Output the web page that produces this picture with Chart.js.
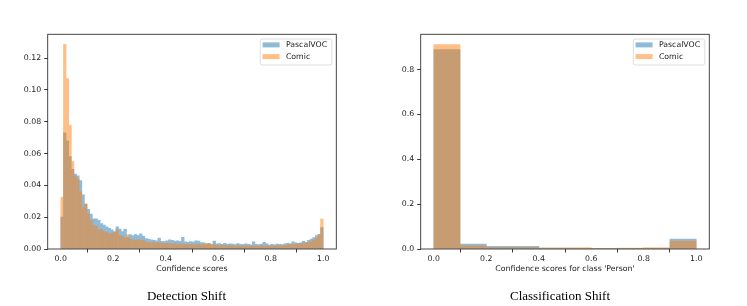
<!DOCTYPE html>
<html><head><meta charset="utf-8">
<script src="https://cdn.jsdelivr.net/npm/chart.js@4"></script>
<style>
html,body{margin:0;padding:0;background:#fff;}
#wrap{position:relative;width:747px;height:306px;overflow:hidden;background:#fff;}
canvas{position:absolute;top:0;}
.cap{position:absolute;font-family:"Liberation Serif","Times New Roman",serif;font-size:13px;color:#000;transform:translateX(-50%);white-space:nowrap;top:288px;line-height:15px;}
</style></head><body>
<div id="wrap">
<canvas id="c1" width="373" height="306" style="left:0"></canvas>
<canvas id="c2" width="374" height="306" style="left:373px"></canvas>
<div class="cap" style="left:186.5px">Detection Shift</div>
<div class="cap" style="left:560px">Classification Shift</div>
</div>
<script>
// ---------- data ----------
const seriesNames = ['PascalVOC', 'Comic'];
const xTicks = [0, 0.2, 0.4, 0.6, 0.8, 1.0];

// Detection shift: 100 bins of width 0.01 on [0,1]
const detBinWidth = 0.01;
const detPascal = [
  0.020, 0.073, 0.068, 0.058, 0.050, 0.047, 0.046, 0.043, 0.034, 0.028,
  0.025, 0.022, 0.019, 0.019, 0.018, 0.016, 0.015, 0.014, 0.013, 0.012,
  0.011, 0.014, 0.0125, 0.011, 0.0125, 0.0075, 0.009, 0.0085, 0.009, 0.0085,
  0.0095, 0.008, 0.0065, 0.0062, 0.0058, 0.0055, 0.0052, 0.0068, 0.0048, 0.0046,
  0.0052, 0.0058, 0.0055, 0.0050, 0.0052, 0.0048, 0.0073, 0.0045, 0.0042, 0.0046,
  0.0044, 0.0052, 0.0050, 0.0041, 0.0038, 0.0028, 0.0035, 0.0026, 0.0050, 0.0032,
  0.0034, 0.0030, 0.0035, 0.0029, 0.0033, 0.0031, 0.0028, 0.0034, 0.0030, 0.0027,
  0.0032, 0.0029, 0.0026, 0.0045, 0.0030, 0.0028, 0.0031, 0.0042, 0.0033, 0.0025,
  0.0029, 0.0026, 0.0031, 0.0030, 0.0028, 0.0033, 0.0036, 0.0032, 0.0045, 0.0038,
  0.0035, 0.0038, 0.0048, 0.0042, 0.0055, 0.0062, 0.0072, 0.0085, 0.0092, 0.0135
];
const detComic = [
  0.0325, 0.1285, 0.107, 0.0778, 0.055, 0.046, 0.044, 0.036, 0.026, 0.0285,
  0.022, 0.018, 0.015, 0.0145, 0.012, 0.0125, 0.011, 0.0105, 0.0095, 0.010,
  0.0105, 0.012, 0.0085, 0.0078, 0.0068, 0.009, 0.0062, 0.0058, 0.0055, 0.006,
  0.0052, 0.0056, 0.0045, 0.0042, 0.0040, 0.0044, 0.0038, 0.0041, 0.0036, 0.0034,
  0.0038, 0.0035, 0.0032, 0.0036, 0.0031, 0.0033, 0.0030, 0.0028, 0.0030, 0.0026,
  0.0029, 0.0027, 0.0030, 0.0025, 0.0028, 0.0036, 0.0034, 0.0030, 0.0026, 0.0024,
  0.0022, 0.0025, 0.0021, 0.0023, 0.0020, 0.0022, 0.0019, 0.0021, 0.0018, 0.0022,
  0.0020, 0.0019, 0.0021, 0.0018, 0.0020, 0.0017, 0.0021, 0.0019, 0.0020, 0.0017,
  0.0019, 0.0018, 0.0021, 0.0020, 0.0022, 0.0024, 0.0026, 0.0028, 0.0027, 0.0030,
  0.0032, 0.0034, 0.0036, 0.0038, 0.0042, 0.0048, 0.0058, 0.0068, 0.0090, 0.0188
];
const detYTicks = [0, 0.02, 0.04, 0.06, 0.08, 0.10, 0.12];
const detXTitle = 'Confidence scores';
const detYMax = 0.1349;

// Classification shift: 10 bins of width 0.1 on [0,1]
const clsBinWidth = 0.1;
const clsPascal = [0.889, 0.0223, 0.0115, 0.0115, 0.0040, 0.0025, 0.0035, 0.0035, 0.0025, 0.0445];
const clsComic  = [0.912, 0.0148, 0.0068, 0.0068, 0.0045, 0.0060, 0.0025, 0.0040, 0.0060, 0.0356];
const clsYTicks = [0, 0.2, 0.4, 0.6, 0.8];
const clsXTitle = "Confidence scores for class 'Person'";
const clsYMax = 0.9576;

// ---------- helpers ----------
const FONT = 'DejaVu Sans';
const TXT = '#222';
const blueFill = '#8fbbd9';                 // tab:blue at alpha .5 on white
const orangeSolid = '#ff7f0e';              // drawn on a layer, composited at alpha .5
const blueLegend = 'rgba(31,119,180,0.5)';
const orangeLegend = 'rgba(255,127,14,0.5)';

function binPoints(values, width) {
  return values.map((v, i) => ({ x: (i + 0.5) * width, y: v }));
}

// draw the translucent series on its own layer so adjacent bars show no seams
const layerPlugin = {
  id: 'layer',
  beforeDatasetDraw(chart, args) {
    if (args.index !== 1) return;
    const ctrl = args.meta.controller;
    if (!ctrl || !ctrl._ctx) return;
    if (!chart.$layer) {
      const c = document.createElement('canvas');
      c.width = chart.canvas.width; c.height = chart.canvas.height;
      chart.$layer = c;
    }
    const lctx = chart.$layer.getContext('2d');
    lctx.clearRect(0, 0, chart.$layer.width, chart.$layer.height);
    chart.$savedCtx = ctrl._ctx;
    ctrl._ctx = lctx;
  },
  afterDatasetDraw(chart, args) {
    if (args.index !== 1 || !chart.$savedCtx) return;
    const ctrl = args.meta.controller;
    ctrl._ctx = chart.$savedCtx;
    chart.$savedCtx = null;
    const ctx = chart.ctx;
    ctx.save();
    ctx.globalAlpha = 0.5;
    ctx.drawImage(chart.$layer, 0, 0);
    ctx.restore();
  }
};

const decoPlugin = {
  id: 'deco',
  afterDraw(chart) {
    const ctx = chart.ctx, a = chart.chartArea;
    ctx.save();
    ctx.strokeStyle = '#333';
    ctx.lineWidth = 0.9;
    ctx.strokeRect(a.left, a.top, a.right - a.left, a.bottom - a.top);
    const w = 71.5, h = 26;
    const bx = a.right - 4.5 - w, by = a.top + 4.7;
    ctx.beginPath();
    ctx.roundRect(bx, by, w, h, 2);
    ctx.fillStyle = 'rgba(255,255,255,0.8)';
    ctx.fill();
    ctx.strokeStyle = '#d6d6d6';
    ctx.lineWidth = 0.8;
    ctx.stroke();
    const colors = [blueLegend, orangeLegend];
    chart.data.datasets.forEach((ds, i) => {
      const py = by + 3.4 + i * 11.7;
      ctx.fillStyle = colors[i];
      ctx.fillRect(bx + 2.3, py, 17, 5);
      ctx.fillStyle = TXT;
      ctx.font = '7.8px "' + FONT + '"';
      ctx.textBaseline = 'middle';
      ctx.textAlign = 'left';
      ctx.fillText(ds.label, bx + 25.6, py + 2.8);
    });
    ctx.restore();
  }
};

function makeChart(id, canvasW, pascal, comic, binW, yMax, yTicks, yDec, xTitle) {
  const plotLeft = 47.7, plotRight = 336.3;
  return new Chart(document.getElementById(id), {
    type: 'bar',
    data: {
      datasets: [
        { label: seriesNames[0], data: binPoints(pascal, binW), backgroundColor: blueFill,
          order: 2, grouped: false, barPercentage: 1, categoryPercentage: 1, borderWidth: 0 },
        { label: seriesNames[1], data: binPoints(comic, binW), backgroundColor: orangeSolid,
          order: 1, grouped: false, barPercentage: 1, categoryPercentage: 1, borderWidth: 0 }
      ]
    },
    options: {
      responsive: false, animation: false, devicePixelRatio: 1,
      layout: { padding: { left: 0, right: canvasW - plotRight, top: 34.3, bottom: 0 } },
      plugins: { legend: { display: false }, tooltip: { enabled: false } },
      scales: {
        x: {
          type: 'linear', min: -0.05, max: 1.05, offset: false,
          afterBuildTicks: s => { s.ticks = xTicks.map(v => ({ value: v })); },
          afterFit: s => { s.height = 306 - 249; },
          grid: { drawOnChartArea: false, drawTicks: true, tickLength: 3.5, tickColor: '#222', tickWidth: 0.9 },
          border: { display: false },
          ticks: { callback: v => Number(v).toFixed(1), font: { family: FONT, size: 7.8 }, color: TXT,
                   padding: 2, maxRotation: 0, autoSkip: false },
          title: { display: true, text: xTitle, font: { family: FONT, size: 7.8 }, color: TXT,
                   padding: { top: 0, bottom: 32 } }
        },
        y: {
          type: 'linear', min: 0, max: yMax,
          afterBuildTicks: s => { s.ticks = yTicks.map(v => ({ value: v })); },
          afterFit: s => { s.width = plotLeft; },
          grid: { drawOnChartArea: false, drawTicks: true, tickLength: 3.5, tickColor: '#222', tickWidth: 0.9 },
          border: { display: false },
          ticks: { callback: v => Number(v).toFixed(yDec), font: { family: FONT, size: 7.8 }, color: TXT,
                   padding: 3, autoSkip: false }
        }
      }
    },
    plugins: [layerPlugin, decoPlugin]
  });
}

makeChart('c1', 373, detPascal, detComic, detBinWidth, detYMax, detYTicks, 2, detXTitle);
makeChart('c2', 374, clsPascal, clsComic, clsBinWidth, clsYMax, clsYTicks, 1, clsXTitle);
</script>
</body></html>
